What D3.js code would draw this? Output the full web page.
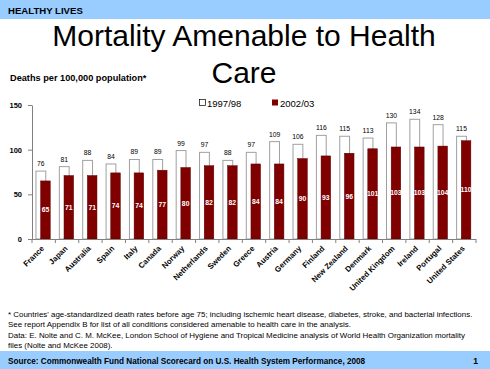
<!DOCTYPE html>
<html><head><meta charset="utf-8">
<script src="https://cdn.jsdelivr.net/npm/d3@7"></script>
<style>body{margin:0;background:#fff}svg{display:block;font-family:"Liberation Sans",Arial,sans-serif}</style>
</head><body><svg id="c" width="490" height="369"></svg>
<script>
const categories = ["France","Japan","Australia","Spain","Italy","Canada","Norway","Netherlands","Sweden","Greece","Austria","Germany","Finland","New Zealand","Denmark","United Kingdom","Ireland","Portugal","United States"];
const values1997 = [76,81,88,84,89,89,99,97,88,97,109,106,116,115,113,130,134,128,115];
const values2002 = [65,71,71,74,74,77,80,82,82,84,84,90,93,96,101,103,103,104,110];
const yTicks = [0,50,100,150];
const seriesNames = ["1997/98","2002/03"];

const svg = d3.select("#c");
// header band
svg.append("rect").attr("x",0).attr("y",0).attr("width",490).attr("height",19).attr("fill","#99CCFF");
svg.append("text").attr("x",8).attr("y",13.5).attr("font-size",9.6).attr("font-weight","bold").attr("fill","#000").text("HEALTHY LIVES");
// footer band
svg.append("rect").attr("x",0).attr("y",351).attr("width",490).attr("height",18).attr("fill","#99CCFF");
svg.append("text").attr("x",8).attr("y",363.5).attr("font-size",8.2).attr("font-weight","bold").text("Source: Commonwealth Fund National Scorecard on U.S. Health System Performance, 2008");
svg.append("text").attr("x",478).attr("y",363.5).attr("font-size",8.5).attr("font-weight","bold").attr("text-anchor","end").text("1");

// title
svg.append("text").attr("x",244).attr("y",46).attr("font-size",30).attr("text-anchor","middle").text("Mortality Amenable to Health");
svg.append("text").attr("x",244).attr("y",83).attr("font-size",30).attr("text-anchor","middle").text("Care");

svg.append("text").attr("x",10).attr("y",81).attr("font-size",9.2).attr("font-weight","bold").text("Deaths per 100,000 population*");

const pl = 32, pr = 476, pt = 105, pb = 239;
const x = d3.scaleBand().domain(categories).range([pl,pr]).padding(0);
const y = d3.scaleLinear().domain([0,150]).range([pb,pt]);
const bw = x.bandwidth();

// y axis
const ya = svg.append("g").attr("transform",`translate(${pl},0)`).call(d3.axisLeft(y).tickValues(yTicks).tickSize(4).tickSizeOuter(0).tickFormat(d3.format("d")));
ya.select(".domain").attr("stroke","#808080");
ya.selectAll(".tick line").attr("stroke","#808080");
ya.selectAll(".tick text").attr("font-size",7.5).attr("font-weight","bold").attr("fill","#000").attr("font-family","Liberation Sans, Arial, sans-serif").attr("dx",-3);

const g = svg.append("g");
g.selectAll(".b1").data(categories).join("rect")
 .attr("x",d=>x(d)+bw*0.17).attr("width",bw*0.42)
 .attr("y",(d,i)=>y(values1997[i])).attr("height",(d,i)=>pb-y(values1997[i]))
 .attr("fill","#fff").attr("stroke","#a0a0a0").attr("stroke-width",1);
g.selectAll(".b2").data(categories).join("rect")
 .attr("x",d=>x(d)+bw*0.37).attr("width",bw*0.41)
 .attr("y",(d,i)=>y(values2002[i])).attr("height",(d,i)=>pb-y(values2002[i]))
 .attr("fill","#800000").attr("stroke","#5a0000").attr("stroke-width",0.5);
g.selectAll(".l1").data(categories).join("text")
 .attr("x",d=>x(d)+bw*0.38).attr("y",(d,i)=>y(values1997[i])-5)
 .attr("text-anchor","middle").attr("font-size",6.8).attr("fill","#000").text((d,i)=>values1997[i]);
g.selectAll(".l2").data(categories).join("text")
 .attr("x",d=>x(d)+bw*0.575).attr("y",(d,i)=>(y(values2002[i])+pb)/2+2.5)
 .attr("text-anchor","middle").attr("font-size",6.8).attr("font-weight","bold").attr("fill","#fff").text((d,i)=>values2002[i]);

// x axis
svg.append("line").attr("x1",pl).attr("x2",pr).attr("y1",pb+0.5).attr("y2",pb+0.5).attr("stroke","#808080");
svg.selectAll(".xt").data(categories.concat(["__end"])).join("line")
 .attr("x1",(d,i)=>pl+i*bw).attr("x2",(d,i)=>pl+i*bw).attr("y1",pb).attr("y2",pb+4).attr("stroke","#808080");
svg.selectAll(".xl").data(categories).join("text")
 .attr("transform",d=>`translate(${x(d)+bw/2+1},${pb+10}) rotate(-45)`)
 .attr("text-anchor","end").attr("font-size",7.8).attr("font-weight","bold").attr("fill","#000").text(d=>d);

// legend
const lg = svg.append("g");
lg.append("rect").attr("x",199.5).attr("y",99.5).attr("width",6).attr("height",6).attr("fill","#fff").attr("stroke","#000").attr("stroke-width",0.7);
lg.append("text").attr("x",207).attr("y",106.5).attr("font-size",9.5).text(seriesNames[0]);
lg.append("rect").attr("x",272).attr("y",99.5).attr("width",6).attr("height",6).attr("fill","#800000");
lg.append("text").attr("x",280).attr("y",106.5).attr("font-size",9.5).text(seriesNames[1]);

// footnotes
const notes = ["* Countries' age-standardized death rates before age 75; including ischemic heart disease, diabetes, stroke, and bacterial infections.",
"See report Appendix B for list of all conditions considered amenable to health care in the analysis.",
"Data: E. Nolte and C. M. McKee, London School of Hygiene and Tropical Medicine analysis of World Health Organization mortality",
"files (Nolte and McKee 2008)."];
svg.selectAll(".fn").data(notes).join("text").attr("x",8).attr("y",(d,i)=>317+i*10.3).attr("font-size",7.95).attr("fill","#000").text(d=>d);
</script></body></html>
